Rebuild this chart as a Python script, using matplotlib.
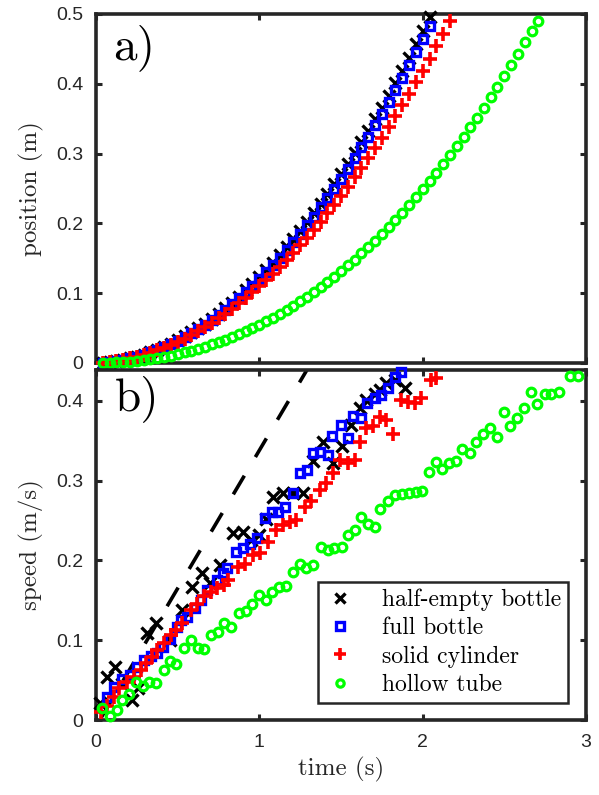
import numpy as np
import matplotlib.pyplot as plt

# ---- panel a) position vs time (frames at 24 fps) ----
t_top = [0.042, 0.083, 0.125, 0.167, 0.208, 0.250, 0.292, 0.333, 0.375, 0.417,
         0.458, 0.500, 0.542, 0.583, 0.625, 0.667, 0.708, 0.750, 0.792, 0.833,
         0.875, 0.917, 0.958, 1.000, 1.042, 1.083, 1.125, 1.167, 1.208, 1.250,
         1.292, 1.333, 1.375, 1.417, 1.458, 1.500, 1.542, 1.583, 1.625, 1.667,
         1.708, 1.750, 1.792, 1.833, 1.875, 1.917, 1.958, 2.000, 2.042, 2.083,
         2.125, 2.167, 2.208, 2.250, 2.292, 2.333, 2.375, 2.417, 2.458, 2.500,
         2.542, 2.583, 2.625, 2.667, 2.708]

pos_half = [0.0005, 0.0015, 0.0029, 0.0045, 0.0068, 0.0092, 0.0121, 0.0155, 0.0193, 0.0233,
            0.0279, 0.0328, 0.0381, 0.0439, 0.0500, 0.0565, 0.0635, 0.0707, 0.0784, 0.0866,
            0.0951, 0.1039, 0.1134, 0.1230, 0.1330, 0.1436, 0.1546, 0.1657, 0.1775, 0.1896,
            0.2021, 0.2150, 0.2284, 0.2420, 0.2561, 0.2706, 0.2855, 0.3008, 0.3165, 0.3325,
            0.3491, 0.3659, 0.3831, 0.4009, 0.4190, 0.4374, 0.4563, 0.4756, 0.4953]
pos_full = [0.0005, 0.0015, 0.0028, 0.0044, 0.0066, 0.0090, 0.0118, 0.0151, 0.0188, 0.0227,
            0.0272, 0.0320, 0.0372, 0.0428, 0.0488, 0.0551, 0.0619, 0.0690, 0.0765, 0.0845,
            0.0928, 0.1014, 0.1106, 0.1200, 0.1298, 0.1401, 0.1508, 0.1617, 0.1732, 0.1850,
            0.1972, 0.2098, 0.2228, 0.2361, 0.2499, 0.2640, 0.2785, 0.2935, 0.3088, 0.3244,
            0.3406, 0.3570, 0.3738, 0.3911, 0.4088, 0.4267, 0.4452, 0.4640, 0.4832]
pos_solid = [0.0006, 0.0016, 0.0029, 0.0046, 0.0066, 0.0089, 0.0116, 0.0146, 0.0180, 0.0217,
             0.0258, 0.0302, 0.0350, 0.0401, 0.0455, 0.0513, 0.0575, 0.0640, 0.0708, 0.0780,
             0.0855, 0.0933, 0.1016, 0.1101, 0.1190, 0.1282, 0.1378, 0.1478, 0.1580, 0.1687,
             0.1796, 0.1909, 0.2026, 0.2146, 0.2269, 0.2396, 0.2527, 0.2660, 0.2798, 0.2938,
             0.3083, 0.3230, 0.3381, 0.3536, 0.3694, 0.3855, 0.4020, 0.4188, 0.4360, 0.4535,
             0.4714, 0.4896]
pos_hollow = [0.0001, 0.0003, 0.0008, 0.0014, 0.0021, 0.0031, 0.0042, 0.0056, 0.0071, 0.0088,
              0.0107, 0.0128, 0.0151, 0.0176, 0.0204, 0.0233, 0.0265, 0.0298, 0.0334, 0.0373,
              0.0413, 0.0456, 0.0501, 0.0549, 0.0599, 0.0651, 0.0706, 0.0763, 0.0823, 0.0886,
              0.0951, 0.1019, 0.1089, 0.1162, 0.1238, 0.1316, 0.1398, 0.1482, 0.1569, 0.1659,
              0.1752, 0.1847, 0.1946, 0.2048, 0.2153, 0.2261, 0.2371, 0.2486, 0.2603, 0.2723,
              0.2847, 0.2974, 0.3104, 0.3238, 0.3375, 0.3515, 0.3659, 0.3806, 0.3957, 0.4111,
              0.4269, 0.4430, 0.4595, 0.4750, 0.4905]

# ---- panel b) speed vs time ----
t_half = [0.024, 0.065, 0.116, 0.160, 0.218, 0.260, 0.310, 0.370, 0.450, 0.524,
          0.585, 0.646, 0.700, 0.758, 0.840, 0.901, 0.950, 1.000, 1.040, 1.084,
          1.146, 1.207, 1.268, 1.329, 1.390, 1.451, 1.503, 1.564, 1.615, 1.656,
          1.706, 1.737, 1.778, 1.829, 1.890]
v_half = [0.021, 0.054, 0.067, 0.045, 0.025, 0.040, 0.109, 0.121, 0.100, 0.138,
          0.167, 0.184, 0.172, 0.194, 0.234, 0.236, 0.225, 0.232, 0.252, 0.280,
          0.284, 0.285, 0.284, 0.324, 0.349, 0.322, 0.343, 0.370, 0.391, 0.401,
          0.409, 0.414, 0.422, 0.426, 0.416]

t_full = [0.065, 0.110, 0.157, 0.208, 0.253, 0.294, 0.335, 0.371, 0.412, 0.453,
          0.493, 0.518, 0.555, 0.606, 0.640, 0.677, 0.738, 0.779, 0.800, 0.860,
          0.900, 0.942, 0.983, 1.034, 1.075, 1.115, 1.156, 1.207, 1.248, 1.289,
          1.329, 1.370, 1.421, 1.447, 1.497, 1.543, 1.574, 1.625, 1.660, 1.706,
          1.747, 1.788, 1.829, 1.870]
v_full = [0.029, 0.042, 0.052, 0.056, 0.067, 0.075, 0.080, 0.084, 0.092, 0.102,
          0.117, 0.125, 0.129, 0.140, 0.150, 0.163, 0.175, 0.184, 0.190, 0.211,
          0.215, 0.221, 0.228, 0.253, 0.261, 0.261, 0.267, 0.284, 0.309, 0.313,
          0.334, 0.336, 0.332, 0.356, 0.370, 0.354, 0.381, 0.379, 0.397, 0.403,
          0.407, 0.416, 0.430, 0.436]

t_solid = [0.029, 0.069, 0.110, 0.141, 0.191, 0.232, 0.273, 0.304, 0.344, 0.375,
           0.416, 0.457, 0.487, 0.528, 0.579, 0.620, 0.661, 0.701, 0.742, 0.783,
           0.809, 0.870, 0.911, 0.962, 1.003, 1.054, 1.105, 1.146, 1.187, 1.227,
           1.278, 1.319, 1.370, 1.411, 1.451, 1.492, 1.543, 1.584, 1.615, 1.656,
           1.696, 1.737, 1.778, 1.820, 1.870, 1.910, 1.951, 1.992, 2.053, 2.084]
v_solid = [0.010, 0.017, 0.029, 0.040, 0.048, 0.054, 0.063, 0.071, 0.079, 0.088,
           0.096, 0.107, 0.113, 0.121, 0.138, 0.146, 0.155, 0.161, 0.165, 0.169,
           0.175, 0.192, 0.196, 0.207, 0.209, 0.223, 0.238, 0.244, 0.248, 0.251,
           0.267, 0.274, 0.288, 0.297, 0.310, 0.326, 0.322, 0.326, 0.349, 0.366,
           0.368, 0.380, 0.376, 0.359, 0.401, 0.399, 0.397, 0.403, 0.426, 0.428]

t_hollow = [0.039, 0.083, 0.127, 0.161, 0.202, 0.243, 0.289, 0.324, 0.365, 0.416,
            0.453, 0.487, 0.538, 0.579, 0.624, 0.661, 0.705, 0.745, 0.783, 0.824,
            0.876, 0.917, 0.958, 0.999, 1.040, 1.080, 1.121, 1.162, 1.207, 1.248,
            1.284, 1.329, 1.380, 1.420, 1.455, 1.503, 1.543, 1.584, 1.625, 1.666,
            1.706, 1.741, 1.788, 1.829, 1.876, 1.916, 1.957, 1.998, 2.039, 2.080,
            2.120, 2.161, 2.206, 2.243, 2.288, 2.328, 2.369, 2.410, 2.453, 2.495,
            2.536, 2.579, 2.620, 2.665, 2.701, 2.746, 2.787, 2.832, 2.905, 2.950]
v_hollow = [0.015, 0.005, 0.013, 0.025, 0.033, 0.048, 0.043, 0.048, 0.046, 0.063,
            0.074, 0.070, 0.090, 0.100, 0.090, 0.089, 0.106, 0.110, 0.121, 0.117,
            0.134, 0.137, 0.146, 0.157, 0.150, 0.161, 0.167, 0.168, 0.186, 0.196,
            0.190, 0.194, 0.217, 0.213, 0.215, 0.217, 0.232, 0.238, 0.255, 0.246,
            0.242, 0.265, 0.274, 0.282, 0.283, 0.285, 0.286, 0.287, 0.311, 0.323,
            0.315, 0.322, 0.324, 0.340, 0.335, 0.348, 0.358, 0.366, 0.355, 0.386,
            0.369, 0.379, 0.391, 0.411, 0.396, 0.408, 0.409, 0.411, 0.431, 0.431]

# dashed reference line (no-slip prediction)
t_ref = [0.03, 1.35]
v_ref = [0.0024, 0.459]

labels = ['half-empty bottle', 'full bottle', 'solid cylinder', 'hollow tube']
x_ticks = [0, 1, 2, 3]
pos_ticks = [0, 0.1, 0.2, 0.3, 0.4, 0.5]
pos_ticklabels = ['0', '0.1', '0.2', '0.3', '0.4', '0.5']
v_ticks = [0, 0.1, 0.2, 0.3, 0.4]
v_ticklabels = ['0', '0.1', '0.2', '0.3', '0.4']

DARK = '#262626'
TEX = 'cmr10'
styles = [
    dict(marker='x', color='k', ms=8, mew=2.4),
    dict(marker='s', color=(0, 0, 1), mfc='none', ms=6.2, mew=2.4),
    dict(marker='+', color=(1, 0, 0), ms=10, mew=2.6),
    dict(marker='o', color=(0, 1, 0), mfc='none', ms=6.2, mew=2.3),
]

fig = plt.figure(figsize=(5.99, 7.95), dpi=100)
ax1 = fig.add_axes([0.1603, 0.5434, 0.818, 0.439])
ax2 = fig.add_axes([0.1603, 0.0943, 0.818, 0.4403])


def style_axes(ax):
    for s in ax.spines.values():
        s.set_linewidth(2.6)
        s.set_color(DARK)
    ax.tick_params(direction='in', length=4.5, width=2.2, color=DARK,
                   top=True, right=True, labelsize=14, labelcolor=DARK)
    ax.tick_params(axis='x', pad=10)
    ax.tick_params(axis='y', pad=9)
    for lab in ax.get_xticklabels() + ax.get_yticklabels():
        lab.set_family('Liberation Sans')
    ax.set_xlim(0, 3)
    ax.set_xticks(x_ticks)


# a) position
tops = [(t_top[:len(pos_half)], pos_half), (t_top[:len(pos_full)], pos_full),
        (t_top[:len(pos_solid)], pos_solid), (t_top[:len(pos_hollow)], pos_hollow)]
for (tt, yy), st in zip(tops, styles):
    ax1.plot(tt, yy, ls='none', clip_on=False, zorder=3, **st)
ax1.set_ylim(0, 0.5)
ax1.set_yticks(pos_ticks)
ax1.set_yticklabels(pos_ticklabels)
style_axes(ax1)
ax1.set_xticklabels([])
ax1.set_ylabel('position (m)', family=TEX, fontsize=18, color=DARK, labelpad=9)
ax1.text(0.035, 0.97, 'a)', transform=ax1.transAxes, family=TEX, fontsize=34,
         va='top', ha='left', color='k')

# b) speed
ax2.plot(t_ref, v_ref, color='k', lw=2.6, dashes=(6, 6), dash_capstyle='butt', zorder=2)
bots = [(t_half, v_half), (t_full, v_full), (t_solid, v_solid), (t_hollow, v_hollow)]
for (tt, yy), st, lab in zip(bots, styles, labels):
    ax2.plot(tt, yy, ls='none', clip_on=False, zorder=3, label=lab, **st)
ax2.set_ylim(0, 0.4386)
ax2.set_yticks(v_ticks)
ax2.set_yticklabels(v_ticklabels)
style_axes(ax2)
ax2.set_ylabel('speed (m/s)', family=TEX, fontsize=18, color=DARK, labelpad=9)
ax2.set_xlabel('time (s)', family=TEX, fontsize=18, color=DARK, labelpad=4)
ax2.text(0.039, 0.985, 'b)', transform=ax2.transAxes, family=TEX, fontsize=34,
         va='top', ha='left', color='k')

leg = ax2.legend(loc='lower left', bbox_to_anchor=(0.453, 0.0486, 0.51, 0.345),
                 mode='expand', borderaxespad=0, fancybox=False, framealpha=1,
                 edgecolor=DARK, prop={'family': TEX, 'size': 17},
                 handlelength=1.3, handletextpad=1.1, labelspacing=0.26,
                 borderpad=0.3, markerscale=0.85)
leg.get_frame().set_linewidth(1.8)

fig.savefig('out.png', dpi=100)
